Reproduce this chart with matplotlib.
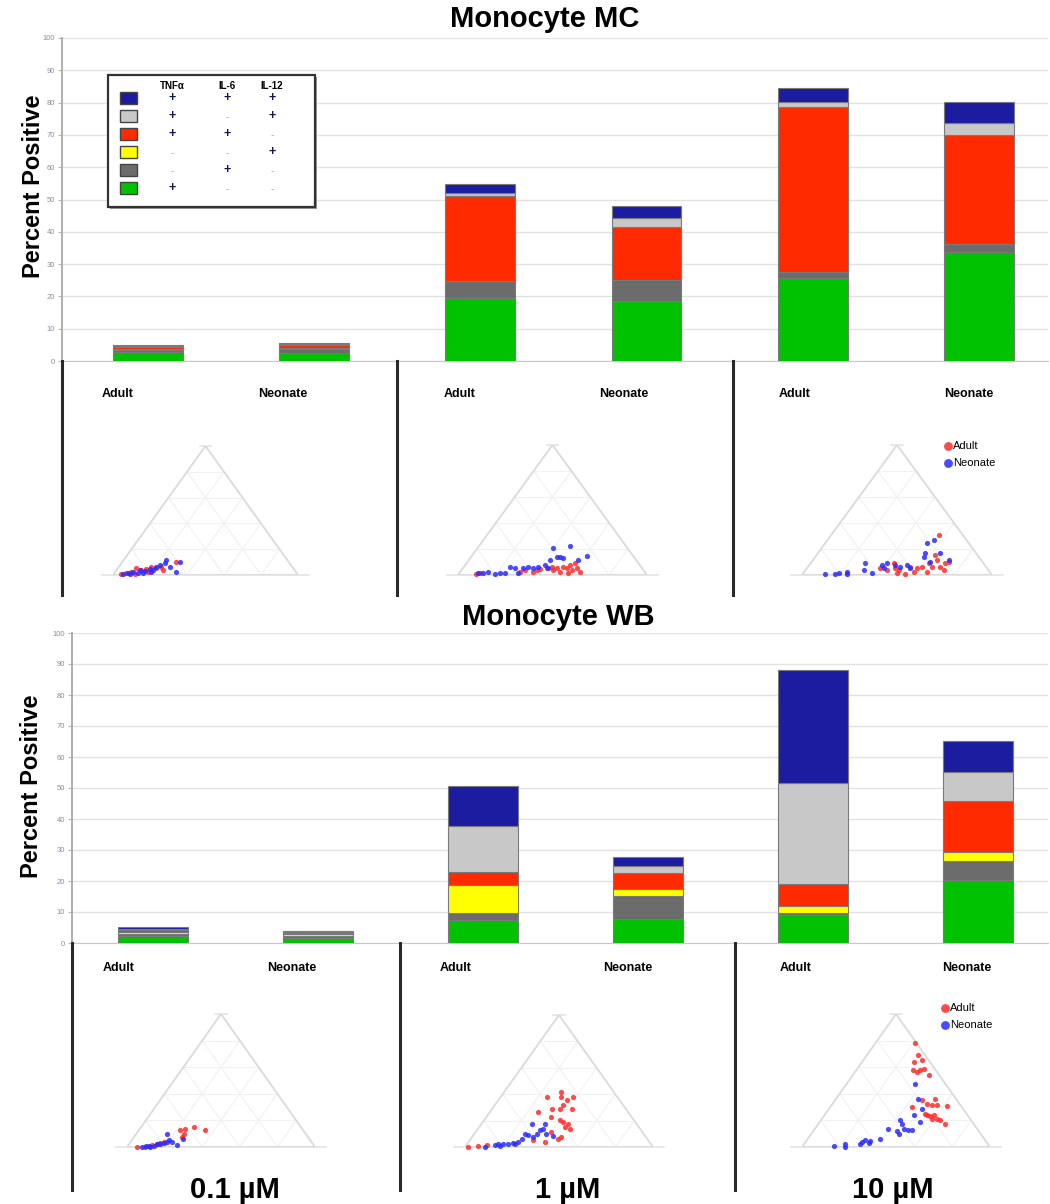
import matplotlib
matplotlib.use("Agg")
import matplotlib.pyplot as plt
from matplotlib.lines import Line2D
from matplotlib.patches import Rectangle
import numpy as np

plt.rcParams['font.family'] = ['Liberation Sans', 'DejaVu Sans']

# ---------------------------------------------------------------- data
groups = ["Adult", "Neonate", "Adult", "Neonate", "Adult", "Neonate"]
doses = ["0.1 \u00b5M", "1 \u00b5M", "10 \u00b5M"]
cytokines = ["TNF\u03b1", "IL-6", "IL-12"]

# cytokine combinations in stacking order (bottom -> top)
combo_members = [(1, 0, 0), (0, 1, 0), (0, 0, 1), (1, 1, 0), (1, 0, 1), (1, 1, 1)]
combo_colors = ["#00c200", "#6c6c6c", "#ffff00", "#ff2a00", "#c8c8c8", "#1c1ca0"]

# Monocyte MC: percent positive per combination
mc_tnf_only = [2.8, 2.5, 19.6, 18.6, 25.6, 33.7]
mc_il6_only = [0.6, 1.2, 5.2, 6.5, 2.0, 2.4]
mc_il12_only = [0.2, 0.2, 0.0, 0.0, 0.0, 0.0]
mc_tnf_il6 = [0.8, 1.0, 26.3, 16.3, 51.1, 33.9]
mc_tnf_il12 = [0.2, 0.3, 1.0, 2.8, 1.6, 3.6]
mc_all = [0.5, 0.5, 2.7, 3.8, 4.1, 6.7]

# Monocyte WB: percent positive per combination
wb_tnf_only = [2.3, 1.6, 7.4, 7.7, 9.0, 20.3]
wb_il6_only = [0.5, 0.6, 2.3, 7.5, 0.7, 6.2]
wb_il12_only = [0.8, 0.6, 9.0, 2.2, 2.2, 2.9]
wb_tnf_il6 = [0.6, 0.4, 4.2, 5.2, 7.1, 16.4]
wb_tnf_il12 = [0.3, 0.3, 14.8, 2.2, 32.6, 9.4]
wb_all = [0.7, 0.4, 12.9, 2.9, 36.5, 10.0]

# Ternary compositions per donor: fraction toward right vertex, fraction toward top vertex
mc01_adult_right = [.043, .066, .086, .100, .134, .158, .175, .208, .229, .251, .291, .113, .176]
mc01_adult_top = [.005, .013, .026, .052, .039, .044, .065, .052, .065, .039, .103, .008, .026]
mc01_neo_right = [.050, .072, .088, .095, .126, .125, .154, .175, .197, .202, .213, .234, .230, .274, .309, .329, .156, .194]
mc01_neo_top = [.008, .018, .005, .026, .018, .039, .034, .047, .039, .065, .078, .090, .116, .065, .103, .026, .013, .026]

mc1_adult_right = [.093, .109, .314, .335, .385, .397, .412, .444, .464, .485, .497, .527, .526, .550, .575, .583, .574, .603, .633, .555]
mc1_adult_top = [.008, .013, .026, .038, .026, .038, .044, .051, .064, .038, .051, .026, .064, .051, .018, .038, .090, .051, .026, .077]
mc1_neo_right = [.097, .126, .149, .191, .212, .239, .242, .275, .310, .320, .340, .373, .393, .422, .430, .402, .452, .470, .494, .482, .580, .608, .452]
mc1_neo_top = [.018, .013, .021, .008, .018, .018, .064, .051, .018, .051, .064, .051, .064, .077, .115, .205, .141, .141, .128, .223, .115, .146, .051]

mc10_adult_right = [.387, .428, .437, .466, .490, .540, .538, .575, .580, .600, .645, .622, .652, .625, .565, .696, .727, .709, .721, .654, .494]
mc10_adult_top = [.051, .038, .090, .051, .038, .008, .064, .026, .051, .064, .026, .090, .064, .154, .308, .064, .038, .090, .103, .115, .013]
mc10_neo_right = [.120, .171, .187, .224, .233, .306, .288, .359, .383, .404, .453, .486, .514, .545, .570, .566, .536, .624, .559, .645, .715, .402]
mc10_neo_top = [.005, .008, .013, .026, .008, .038, .090, .018, .077, .051, .077, .064, .077, .051, .141, .167, .244, .103, .269, .167, .115, .090]

wb01_adult_right = [.053, .097, .126, .149, .162, .176, .220, .255, .241, .279, .353, .251]
wb01_adult_top = [.000, .000, .013, .020, .030, .038, .126, .075, .138, .151, .126, .101]
wb01_neo_right = [.080, .098, .113, .138, .147, .167, .180, .193, .196, .162, .259, .269, .220, .124]
wb01_neo_top = [.000, .010, .005, .008, .025, .020, .030, .038, .050, .101, .013, .063, .038, .000]

wb1_adult_right = [.018, .068, .109, .337, .256, .406, .244, .315, .346, .464, .359, .323, .304, .364, .427, .455, .363, .461, .489, .421, .385, .475, .403, .403]
wb1_adult_top = [.000, .005, .013, .051, .266, .038, .380, .291, .228, .063, .291, .380, .418, .316, .190, .152, .354, .177, .139, .291, .380, .076, .114, .203]
wb1_neo_right = [.106, .153, .167, .191, .220, .242, .264, .270, .268, .292, .266, .325, .330, .335, .346, .336, .383, .428, .253, .183]
wb1_neo_top = [.000, .013, .020, .025, .020, .030, .038, .063, .101, .089, .177, .076, .101, .127, .139, .177, .101, .081, .025, .005]

wb10_adult_right = [.213, .274, .311, .273, .304, .329, .339, .355, .403, .461, .501, .533, .526, .560, .617, .433, .545, .566, .580, .610, .632, .673, .583, .530]
wb10_adult_top = [.779, .691, .653, .641, .578, .565, .578, .583, .540, .352, .327, .314, .364, .314, .307, .302, .239, .231, .239, .214, .206, .176, .214, .251]
wb10_neo_right = [.166, .220, .230, .300, .311, .339, .340, .385, .391, .444, .422, .443, .471, .503, .521, .474, .534, .493, .437, .364, .463, .300]
wb10_neo_top = [.005, .020, .000, .038, .050, .030, .045, .063, .138, .121, .201, .176, .138, .126, .126, .239, .188, .289, .364, .477, .101, .020]

# ---------------------------------------------------------------- figure
W, H = 1050, 1204
fig = plt.figure(figsize=(W / 100, H / 100), dpi=100)
fig.patch.set_facecolor("white")


def fx(px):
    return px / W


def fy(py):
    return 1 - py / H


def axes_px(left, top, right, bottom, **kw):
    return fig.add_axes([fx(left), fy(bottom), (right - left) / W, (bottom - top) / H], **kw)


def stacked_bars(ax, layers):
    x = np.arange(len(groups))
    base = np.zeros(len(groups))
    for vals, col in zip(layers, combo_colors):
        v = np.asarray(vals, dtype=float)
        ax.bar(x, v, width=0.42, bottom=base, color=col, edgecolor="#7a7a7a",
               linewidth=0.8, zorder=3)
        base += v
    ax.set_ylim(0, 100)
    ax.set_yticks(np.arange(0, 101, 10))
    ax.set_xticks([])
    ax.grid(axis="y", color="#e2e2e2", linewidth=1.0, zorder=0)
    for s in ("top", "right"):
        ax.spines[s].set_visible(False)
    ax.spines["left"].set_color("#a8a8a8")
    ax.spines["left"].set_linewidth(1.3)
    ax.spines["bottom"].set_color("#c8c8c8")
    ax.tick_params(axis="y", length=3, color="#b8b8b8", labelsize=5.5,
                   labelcolor="#8c8ca6", pad=2)


def ternary(ax, adult_r, adult_t, neo_r, neo_t):
    ax.set_xlim(0, 1)
    ax.set_ylim(0, 1)
    ax.axis("off")
    grid = "#f1f1f1"
    for k in np.arange(0.2, 1.0, 0.2):
        # lines parallel to each side
        ax.plot([k / 2, 1 - k / 2], [k, k], color=grid, lw=0.8, zorder=1)
        ax.plot([k, k / 2 + 0.5], [0, 1 - k], color=grid, lw=0.8, zorder=1)
        ax.plot([k, k / 2], [0, k], color=grid, lw=0.8, zorder=1)
    ax.plot([0, 1, 0.5, 0], [0, 0, 1, 0], color="#dadada", lw=1.3, zorder=2,
            solid_joinstyle="miter")
    ax.plot([-0.06, 1.06], [0, 0], color="#e4e4e4", lw=1.2, zorder=1, clip_on=False)
    ax.plot([0.47, 0.53], [1, 1], color="#e4e4e4", lw=1.2, zorder=1, clip_on=False)
    ar, at = np.asarray(adult_r), np.asarray(adult_t)
    nr, nt = np.asarray(neo_r), np.asarray(neo_t)
    ax.scatter(ar + at / 2, at, s=14, color="#ff2a2a", alpha=0.85, lw=0,
               zorder=4, clip_on=False, label="Adult")
    ax.scatter(nr + nt / 2, nt, s=14, color="#2a2aff", alpha=0.85, lw=0,
               zorder=4, clip_on=False, label="Neonate")


# ---- Monocyte MC bar chart
ax1 = axes_px(62, 38, 1048, 361)
stacked_bars(ax1, [mc_tnf_only, mc_il6_only, mc_il12_only, mc_tnf_il6, mc_tnf_il12, mc_all])
ax1.set_xlim(-0.517, 5.415)

# ---- Monocyte WB bar chart
ax2 = axes_px(72, 633, 1048, 943)
stacked_bars(ax2, [wb_tnf_only, wb_il6_only, wb_il12_only, wb_tnf_il6, wb_tnf_il12, wb_all])
ax2.set_xlim(-0.491, 5.424)

# ---- combination key inside the MC chart
kx0, kx1, ky0, ky1 = 108, 315, 75, 207
ax1.add_patch(Rectangle((fx(kx0 + 2), fy(ky1 + 2)), fx(kx1 - kx0), (ky1 - ky0) / H,
                        transform=fig.transFigure, facecolor="#9a9a9a", edgecolor="none",
                        zorder=5, clip_on=False))
ax1.add_patch(Rectangle((fx(kx0), fy(ky1)), fx(kx1 - kx0), (ky1 - ky0) / H,
                        transform=fig.transFigure, facecolor="white", edgecolor="#333333",
                        linewidth=1.6, zorder=6, clip_on=False))
col_x = [172, 227, 272]
for cx, name in zip(col_x, cytokines):
    fig.text(fx(cx), fy(86), name, ha="center", va="center", fontsize=7,
             fontweight="bold", zorder=7)
row_y = [98, 116, 134, 152, 170, 188]
for ry, members, col in zip(row_y, combo_members[::-1], combo_colors[::-1]):
    ax1.add_patch(Rectangle((fx(120), fy(ry + 6)), fx(17), 12 / H, transform=fig.transFigure,
                            facecolor=col, edgecolor="#444444", linewidth=1.0, zorder=7,
                            clip_on=False))
    for cx, m in zip(col_x, members):
        if m:
            fig.text(fx(cx), fy(ry), "+", ha="center", va="center", fontsize=9,
                     fontweight="bold", color="#141450", zorder=8)
        else:
            fig.text(fx(cx), fy(ry + 1), "-", ha="center", va="center", fontsize=7,
                     color="#c09a9a", zorder=8)

# ---- titles and axis labels
fig.text(fx(545), fy(19), "Monocyte MC", ha="center", va="center", fontsize=21, fontweight="bold")
fig.text(fx(558), fy(617), "Monocyte WB", ha="center", va="center", fontsize=21, fontweight="bold")
fig.text(fx(34), fy(186), "Percent Positive", rotation=90, ha="center", va="center",
         fontsize=17, fontweight="bold")
fig.text(fx(32), fy(786), "Percent Positive", rotation=90, ha="center", va="center",
         fontsize=17, fontweight="bold")

# group labels under the bars
for px, g in zip([118, 283, 460, 624, 795, 969], groups):
    fig.text(fx(px), fy(394), g, ha="center", va="center", fontsize=9, fontweight="bold")
for px, g in zip([119, 292, 456, 628, 796, 967], groups):
    fig.text(fx(px), fy(968), g, ha="center", va="center", fontsize=9, fontweight="bold")

# panel separators
for px in (62, 397, 733):
    fig.add_artist(Line2D([fx(px), fx(px)], [fy(361), fy(595)], color="#2a2a2a", lw=2.2))
for px in (72, 400, 735):
    fig.add_artist(Line2D([fx(px), fx(px)], [fy(943), fy(1190)], color="#2a2a2a", lw=2.2))

# ---- ternary panels
tern_mc = [
    ((113, 446, 298, 575), mc01_adult_right, mc01_adult_top, mc01_neo_right, mc01_neo_top),
    ((458, 445, 647, 575), mc1_adult_right, mc1_adult_top, mc1_neo_right, mc1_neo_top),
    ((802, 445, 992, 575), mc10_adult_right, mc10_adult_top, mc10_neo_right, mc10_neo_top),
]
tern_wb = [
    ((127, 1014, 315, 1147), wb01_adult_right, wb01_adult_top, wb01_neo_right, wb01_neo_top),
    ((465, 1015, 653, 1147), wb1_adult_right, wb1_adult_top, wb1_neo_right, wb1_neo_top),
    ((802, 1014, 990, 1147), wb10_adult_right, wb10_adult_top, wb10_neo_right, wb10_neo_top),
]
tern_axes = []
for box, a_r, a_t, n_r, n_t in tern_mc + tern_wb:
    tax = axes_px(*box)
    ternary(tax, a_r, a_t, n_r, n_t)
    tern_axes.append(tax)

for tax, (lx, ly) in ((tern_axes[2], (942, 441)), (tern_axes[5], (939, 1003))):
    tax.legend(loc="upper left", bbox_to_anchor=(fx(lx), fy(ly)), bbox_transform=fig.transFigure,
               frameon=False, fontsize=8, handletextpad=0.0, borderpad=0, borderaxespad=0,
               labelspacing=0.6, handlelength=1.0, markerscale=1.7)

# dose labels
for px, d in zip([235, 568, 893], doses):
    fig.text(fx(px), fy(1190), d, ha="center", va="center", fontsize=21, fontweight="bold")

fig.savefig("out.png", dpi=100, facecolor="white")
